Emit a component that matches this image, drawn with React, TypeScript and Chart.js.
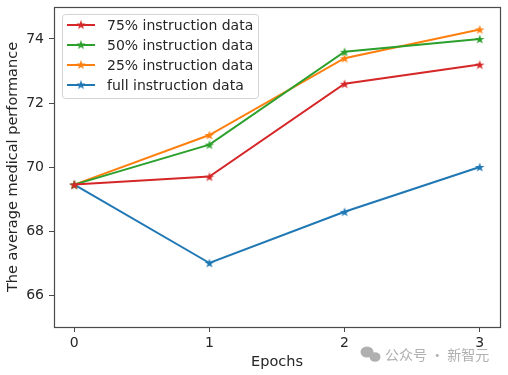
import React, { useEffect, useRef } from 'react';
import { Chart, registerables } from 'chart.js';
Chart.register(...registerables);

const epochs = [0, 1, 2, 3];
const labels = ['75% instruction data', '50% instruction data', '25% instruction data', 'full instruction data'];
const s75 = [69.45, 69.7, 72.6, 73.2];
const s50 = [69.45, 70.7, 73.6, 74.0];
const s25 = [69.45, 71.0, 73.4, 74.3];
const sFull = [69.45, 67.0, 68.6, 70.0];
const colors = ['#d62728', '#2ca02c', '#ff7f0e', '#1f77b4'];
const xTicks = [0, 1, 2, 3];
const yTicks = [66, 68, 70, 72, 74];

const FONT = "'DejaVu Sans', sans-serif";

function makeStar(color: string) {
  const c = document.createElement('canvas');
  c.width = 12;
  c.height = 12;
  const ctx = c.getContext('2d')!;
  ctx.beginPath();
  for (let i = 0; i < 10; i++) {
    const r = i % 2 ? 2.0 : 5.0;
    const a = -Math.PI / 2 + (i * Math.PI) / 5;
    const x = 6 + r * Math.cos(a);
    const y = 6.5 + r * Math.sin(a);
    if (i === 0) ctx.moveTo(x, y);
    else ctx.lineTo(x, y);
  }
  ctx.closePath();
  ctx.fillStyle = color;
  ctx.fill();
  return c;
}

export default function App() {
  const ref = useRef<HTMLCanvasElement>(null);
  useEffect(() => {
    document.body.style.margin = '0';
    const stars = colors.map(makeStar);
    const series = [s75, s50, s25, sFull];
    const extras = {
      id: 'extras',
      afterDraw(chart: any) {
        const ctx = chart.ctx as CanvasRenderingContext2D;
        const a = chart.chartArea;
        ctx.save();
        // frame
        ctx.strokeStyle = '#4a4a4a';
        ctx.lineWidth = 1.2;
        ctx.strokeRect(Math.round(a.left) + 0.5, Math.round(a.top) + 0.5, Math.round(a.right - a.left), Math.round(a.bottom - a.top));
        // legend
        const lx = a.left + 8, ly = a.top + 7, lw = 196, lh = 84;
        ctx.beginPath();
        ctx.roundRect(lx + 0.5, ly + 0.5, lw, lh, 3);
        ctx.fillStyle = 'rgba(255,255,255,0.8)';
        ctx.fill();
        ctx.strokeStyle = '#d4d4d4';
        ctx.lineWidth = 1;
        ctx.stroke();
        ctx.font = `14px ${FONT}`;
        ctx.textBaseline = 'middle';
        ctx.textAlign = 'left';
        labels.forEach((t, i) => {
          const y = ly + 11 + i * 20;
          ctx.strokeStyle = colors[i];
          ctx.lineWidth = 2;
          ctx.beginPath();
          ctx.moveTo(lx + 5, y);
          ctx.lineTo(lx + 33, y);
          ctx.stroke();
          ctx.drawImage(stars[i], lx + 19 - 6, y - 6.5);
          ctx.fillStyle = '#262626';
          ctx.fillText(t, lx + 45, y + 1);
        });
        // axis titles
        ctx.fillStyle = '#262626';
        ctx.font = `14.5px ${FONT}`;
        ctx.textAlign = 'center';
        ctx.fillText('Epochs', (a.left + a.right) / 2, 362);
        ctx.save();
        ctx.translate(13, (a.top + a.bottom) / 2);
        ctx.rotate(-Math.PI / 2);
        ctx.fillText('The average medical performance', 0, 0);
        ctx.restore();
        // watermark
        ctx.fillStyle = '#b0b0b0';
        ctx.beginPath();
        ctx.ellipse(367, 352, 6.5, 5.5, 0, 0, Math.PI * 2);
        ctx.fill();
        ctx.beginPath();
        ctx.ellipse(375, 357, 5.5, 4.8, 0, 0, Math.PI * 2);
        ctx.fill();
        ctx.font = `14px 'Noto Sans CJK SC', sans-serif`;
        ctx.textAlign = 'left';
        ctx.fillText('公众号 · 新智元', 385, 355);
        ctx.restore();
      },
    };
    const chart = new Chart(ref.current!, {
      type: 'line',
      data: {
        datasets: series.map((s, i) => ({
          label: labels[i],
          data: s.map((v, j) => ({ x: epochs[j], y: v })),
          borderColor: colors[i],
          backgroundColor: colors[i],
          borderWidth: 2,
          pointStyle: stars[i],
          pointRadius: 5,
          tension: 0,
          fill: false,
        })),
      },
      options: {
        animation: false,
        responsive: false,
        devicePixelRatio: 1,
        layout: { padding: { left: 0, right: 8, top: 6, bottom: 0 } },
        plugins: { legend: { display: false }, tooltip: { enabled: false } },
        scales: {
          x: {
            type: 'linear',
            min: -0.15,
            max: 3.15,
            afterBuildTicks: (s: any) => { s.ticks = xTicks.map((v) => ({ value: v })); },
            afterFit: (s: any) => { s.height = 48; s.paddingLeft = 0; s.paddingRight = 0; },
            grid: { drawOnChartArea: false, drawTicks: true, tickLength: 5, color: '#4a4a4a' },
            border: { display: false },
            ticks: { color: '#262626', font: { family: FONT, size: 14 }, padding: 3, maxRotation: 0 },
          },
          y: {
            type: 'linear',
            min: 65,
            max: 75,
            afterBuildTicks: (s: any) => { s.ticks = yTicks.map((v) => ({ value: v })); },
            afterFit: (s: any) => { s.width = 54; s.paddingTop = 0; s.paddingBottom = 0; },
            grid: { drawOnChartArea: false, drawTicks: true, tickLength: 5, color: '#4a4a4a' },
            border: { display: false },
            ticks: { color: '#262626', font: { family: FONT, size: 14 }, padding: 5 },
          },
        },
      },
      plugins: [extras],
    });
    return () => chart.destroy();
  }, []);
  return <canvas ref={ref} width={508} height={375} style={{ display: 'block' }} />;
}
